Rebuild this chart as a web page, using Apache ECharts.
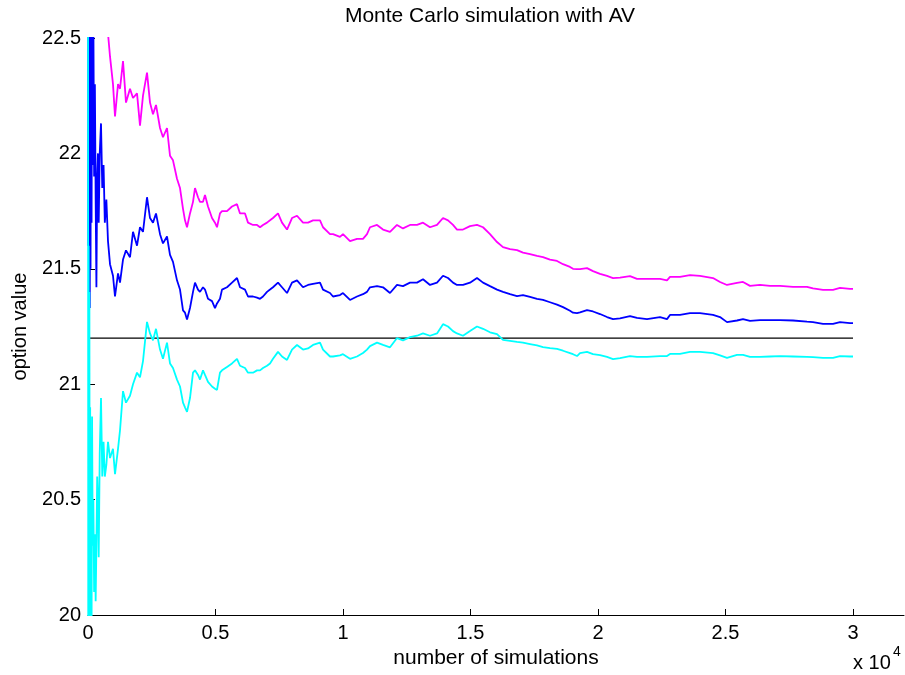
<!DOCTYPE html>
<html>
<head>
<meta charset="utf-8">
<title>Monte Carlo simulation with AV</title>
<script src="https://cdn.jsdelivr.net/npm/echarts@6/dist/echarts.min.js"></script>
<style>
  html, body { margin: 0; padding: 0; background: #fff; }
  #chart { width: 905px; height: 675px; }
</style>
</head>
<body>
<div id="chart"></div>
<script>
// Running estimate of the option value (antithetic variates) and its 95% band
const simCount = [
  1, 12, 25, 40, 55, 70, 85, 100, 120, 140, 160, 185, 210, 240, 270, 300, 330, 360, 390, 420,
  460, 510, 560, 610, 660, 720, 784, 863, 980, 1059, 1177, 1255, 1373, 1490, 1647, 1765, 1922,
  2039, 2157, 2314, 2432, 2549, 2667, 2824, 2941, 3098, 3216, 3333, 3490, 3608, 3726, 3804, 3883,
  4000, 4118, 4196, 4314, 4392, 4510, 4588, 4706, 4863, 4980, 5059, 5176, 5255, 5451, 5647, 5843,
  5961, 6157, 6275, 6471, 6628, 6746, 6863, 7020, 7138, 7255, 7451, 7608, 7804, 8000, 8196, 8432,
  8628, 8824, 9098, 9216, 9490, 9608, 9882, 10000, 10275, 10549, 10784, 10941, 11059, 11334, 11569,
  11843, 12118, 12353, 12628, 12902, 13138, 13412, 13687, 13922, 14118, 14314, 14471, 14706, 14981,
  15255, 15491, 15765, 16040, 16275, 16550, 16824, 17059, 17334, 17608, 17843, 18118, 18393, 18628,
  18902, 19020, 19177, 19294, 19569, 19804, 20079, 20353, 20589, 20863, 21255, 21530, 21922, 22432,
  22706, 22824, 23216, 23608, 24000, 24510, 24785, 25059, 25451, 25687, 25961, 26353, 26746, 27138,
  27647, 28196, 28432, 28824, 29216, 29490, 29882, 30000
];

const meanEstimate = [
  23.4, 21.6, 23.0, 21.5, 22.8, 21.33, 22.6, 21.5, 22.7, 21.7, 22.55, 21.95, 22.6, 21.9, 22.3, 21.8, 21.42, 21.9, 22.0, 21.7,
  22.0, 22.13, 21.85, 21.95, 21.7, 21.8, 21.62, 21.52, 21.47, 21.38, 21.48, 21.44, 21.54, 21.58, 21.55, 21.66, 21.60,
  21.68, 21.66, 21.81, 21.72, 21.70, 21.74, 21.65, 21.61, 21.64, 21.56, 21.53, 21.45, 21.41, 21.32, 21.31, 21.28,
  21.33, 21.40, 21.44, 21.41, 21.40, 21.42, 21.41, 21.37, 21.36, 21.33, 21.35, 21.37, 21.41, 21.42, 21.44, 21.46,
  21.42, 21.41, 21.38, 21.38, 21.375, 21.37, 21.38, 21.40, 21.41, 21.42, 21.44, 21.42, 21.395, 21.44, 21.45, 21.42,
  21.43, 21.435, 21.44, 21.41, 21.395, 21.38, 21.386, 21.395, 21.365, 21.38, 21.39, 21.40, 21.42, 21.425, 21.42,
  21.395, 21.43, 21.425, 21.44, 21.44, 21.455, 21.43, 21.44, 21.47, 21.46, 21.44, 21.43, 21.43, 21.44,
  21.46, 21.44, 21.425, 21.41, 21.40, 21.39, 21.382, 21.386, 21.378, 21.37, 21.365, 21.355, 21.345, 21.334,
  21.318, 21.31, 21.308, 21.311, 21.321, 21.315, 21.304, 21.291, 21.282, 21.285, 21.295, 21.287, 21.282, 21.291,
  21.282, 21.30, 21.30, 21.308, 21.308, 21.30, 21.291, 21.269, 21.276, 21.282, 21.274, 21.278, 21.278, 21.278,
  21.276, 21.271, 21.269, 21.261, 21.261, 21.269, 21.265, 21.265
];

const upperBound = [
  27.0, 24.5, 25.5, 23.8, 24.8, 23.2, 24.3, 23.0, 24.2, 23.2, 24.0, 23.4, 24.0, 23.3, 23.6, 23.1, 22.7, 23.2, 23.25, 22.95,
  23.2, 23.3, 23.0, 23.1, 22.85, 22.95, 22.52, 22.42, 22.30, 22.16, 22.30, 22.28, 22.40, 22.22, 22.28, 22.24, 22.26,
  22.12, 22.25, 22.35, 22.22, 22.17, 22.21, 22.11, 22.07, 22.11, 21.99, 21.97, 21.89, 21.85, 21.76, 21.71, 21.68,
  21.74, 21.79, 21.85, 21.81, 21.79, 21.79, 21.82, 21.77, 21.72, 21.70, 21.68, 21.74, 21.75, 21.75, 21.77, 21.78,
  21.74, 21.74, 21.70, 21.69, 21.69, 21.68, 21.69, 21.70, 21.71, 21.72, 21.74, 21.70, 21.67, 21.72, 21.73, 21.70,
  21.70, 21.71, 21.71, 21.68, 21.65, 21.65, 21.638, 21.65, 21.62, 21.63, 21.63, 21.65, 21.68, 21.69, 21.67,
  21.66, 21.69, 21.675, 21.69, 21.69, 21.70, 21.68, 21.69, 21.72, 21.71, 21.69, 21.67, 21.67, 21.685,
  21.69, 21.68, 21.65, 21.616, 21.594, 21.585, 21.581, 21.57, 21.564, 21.556, 21.551, 21.54, 21.534, 21.52,
  21.508, 21.50, 21.499, 21.499, 21.503, 21.49, 21.478, 21.469, 21.46, 21.462, 21.468, 21.456, 21.456, 21.456,
  21.45, 21.465, 21.465, 21.473, 21.469, 21.46, 21.443, 21.43, 21.439, 21.443, 21.426, 21.43, 21.426, 21.426,
  21.422, 21.422, 21.415, 21.409, 21.409, 21.417, 21.413, 21.413
];

const lowerBound = [
  22.8, 19.2, 21.6, 19.5, 21.4, 19.6, 20.9, 19.8, 20.7, 19.9, 20.86, 20.3, 20.5, 20.1, 20.35, 20.06, 20.3, 20.6, 20.5, 20.25,
  20.7, 20.94, 20.6, 20.75, 20.6, 20.65, 20.75, 20.68, 20.72, 20.61, 20.72, 20.80, 20.97, 20.92, 20.95, 21.00, 21.05,
  21.03, 21.10, 21.27, 21.22, 21.19, 21.24, 21.15, 21.11, 21.18, 21.09, 21.07, 21.02, 20.99, 20.92, 20.90, 20.88,
  20.94, 21.05, 21.06, 21.04, 21.02, 21.06, 21.04, 21.01, 20.99, 20.98, 20.975, 21.05, 21.06, 21.075, 21.09, 21.11,
  21.08, 21.07, 21.05, 21.05, 21.06, 21.06, 21.07, 21.08, 21.09, 21.11, 21.14, 21.12, 21.105, 21.15, 21.17, 21.15,
  21.155, 21.17, 21.18, 21.15, 21.12, 21.12, 21.125, 21.13, 21.11, 21.12, 21.135, 21.15, 21.165, 21.18, 21.17,
  21.16, 21.20, 21.19, 21.204, 21.21, 21.22, 21.21, 21.22, 21.26, 21.25, 21.23, 21.22, 21.21, 21.23,
  21.25, 21.24, 21.225, 21.217, 21.192, 21.188, 21.183, 21.18, 21.174, 21.168, 21.161, 21.156, 21.153, 21.145,
  21.135, 21.13, 21.122, 21.135, 21.14, 21.13, 21.126, 21.118, 21.109, 21.113, 21.122, 21.118, 21.118, 21.122,
  21.122, 21.131, 21.131, 21.14, 21.14, 21.135, 21.125, 21.114, 21.127, 21.127, 21.118, 21.118, 21.12, 21.122,
  21.12, 21.118, 21.117, 21.114, 21.114, 21.122, 21.12, 21.12
];

// Reference (closed-form) option value, drawn across the simulated range
const referenceValue = 21.2;
const referenceRange = [0, 30000];

// Axis ticks
const xTickValues = [0, 5000, 10000, 15000, 20000, 25000, 30000];
const xTickLabels = ['0', '0.5', '1', '1.5', '2', '2.5', '3'];
const yTicks = [20, 20.5, 21, 21.5, 22, 22.5];

const font = '"Liberation Sans", Arial, Helvetica, sans-serif';
const pairs = (vals) => simCount.map((n, i) => [n, vals[i]]);

const chart = echarts.init(document.getElementById('chart'), null, { renderer: 'canvas' });

chart.setOption({
  animation: false,
  backgroundColor: '#ffffff',
  grid: { left: 88, top: 38, width: 816, height: 577, containLabel: false },
  xAxis: {
    type: 'value',
    min: 0,
    max: 32000,
    interval: 5000,
    axisLine: { show: true, onZero: false, lineStyle: { color: '#000', width: 1 } },
    axisTick: { show: true, inside: true, length: 6, customValues: xTickValues, lineStyle: { color: '#000' } },
    axisLabel: {
      customValues: xTickValues,
      formatter: (v) => xTickLabels[xTickValues.indexOf(v)] ?? '',
      color: '#000', fontSize: 20, fontFamily: font, margin: 8
    },
    splitLine: { show: false },
    name: 'number of simulations',
    nameLocation: 'middle',
    nameGap: 30,
    nameTextStyle: { color: '#000', fontSize: 21, fontFamily: font }
  },
  yAxis: {
    type: 'value',
    min: yTicks[0],
    max: yTicks[yTicks.length - 1],
    interval: 0.5,
    axisLine: { show: true, onZero: false, lineStyle: { color: '#000', width: 1 } },
    axisTick: { show: true, inside: true, length: 7, lineStyle: { color: '#000' } },
    axisLabel: { color: '#000', fontSize: 20, fontFamily: font, margin: 7 },
    splitLine: { show: false },
    name: 'option value',
    nameLocation: 'middle',
    nameGap: 58,
    nameRotate: 90,
    nameTextStyle: { color: '#000', fontSize: 20, fontFamily: font }
  },
  graphic: [
    {
      type: 'text', x: 490, y: 6,
      style: { text: 'Monte Carlo simulation with AV', fill: '#000', fontSize: 21, fontFamily: font, textAlign: 'center' }
    },
    {
      type: 'text', x: 853, y: 653,
      style: { text: 'x 10', fill: '#000', fontSize: 20, fontFamily: font }
    },
    {
      type: 'text', x: 893, y: 645,
      style: { text: '4', fill: '#000', fontSize: 14, fontFamily: font }
    }
  ],
  series: [
    {
      name: 'reference', type: 'line', showSymbol: false, silent: true,
      data: referenceRange.map((n) => [n, referenceValue]),
      lineStyle: { color: '#000', width: 1.2 }, z: 1
    },
    {
      name: 'upper', type: 'line', showSymbol: false, clip: true,
      data: pairs(upperBound),
      lineStyle: { color: '#ff00ff', width: 1.8 }, z: 2
    },
    {
      name: 'estimate', type: 'line', showSymbol: false, clip: true,
      data: pairs(meanEstimate),
      lineStyle: { color: '#0000ff', width: 1.8 }, z: 3
    },
    {
      name: 'lower', type: 'line', showSymbol: false, clip: true,
      data: pairs(lowerBound),
      lineStyle: { color: '#00ffff', width: 1.8 }, z: 4
    }
  ]
});
</script>
</body>
</html>
